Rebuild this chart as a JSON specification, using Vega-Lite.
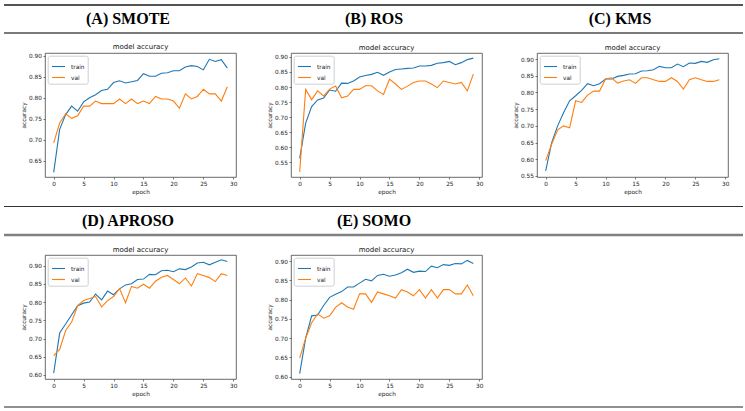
{
"$schema":"https://vega.github.io/schema/vega-lite/v6.json",
"padding":{"left":2,"top":4,"right":0,"bottom":0},
"spacing":8,
"datasets":{
"heads":[
{"row":1,"col":0,"label":"(A) SMOTE"},{"row":1,"col":1,"label":"(B) ROS"},{"row":1,"col":2,"label":"(C) KMS"},
{"row":2,"col":0,"label":"(D) APROSO"},{"row":2,"col":1,"label":"(E) SOMO"}],
"acc":[
{"method":"SMOTE","epoch":0,"train":0.623,"val":0.693},{"method":"SMOTE","epoch":1,"train":0.725,"val":0.74},{"method":"SMOTE","epoch":2,"train":0.76,"val":0.762},{"method":"SMOTE","epoch":3,"train":0.78,"val":0.751},{"method":"SMOTE","epoch":4,"train":0.768,"val":0.757},{"method":"SMOTE","epoch":5,"train":0.79,"val":0.78},{"method":"SMOTE","epoch":6,"train":0.8,"val":0.78},{"method":"SMOTE","epoch":7,"train":0.807,"val":0.792},{"method":"SMOTE","epoch":8,"train":0.817,"val":0.786},{"method":"SMOTE","epoch":9,"train":0.82,"val":0.786},
{"method":"SMOTE","epoch":10,"train":0.836,"val":0.786},{"method":"SMOTE","epoch":11,"train":0.84,"val":0.797},{"method":"SMOTE","epoch":12,"train":0.835,"val":0.786},{"method":"SMOTE","epoch":13,"train":0.838,"val":0.797},{"method":"SMOTE","epoch":14,"train":0.841,"val":0.786},{"method":"SMOTE","epoch":15,"train":0.857,"val":0.792},{"method":"SMOTE","epoch":16,"train":0.851,"val":0.786},{"method":"SMOTE","epoch":17,"train":0.851,"val":0.803},{"method":"SMOTE","epoch":18,"train":0.858,"val":0.797},{"method":"SMOTE","epoch":19,"train":0.859,"val":0.797},
{"method":"SMOTE","epoch":20,"train":0.864,"val":0.792},{"method":"SMOTE","epoch":21,"train":0.864,"val":0.775},{"method":"SMOTE","epoch":22,"train":0.873,"val":0.809},{"method":"SMOTE","epoch":23,"train":0.876,"val":0.797},{"method":"SMOTE","epoch":24,"train":0.874,"val":0.803},{"method":"SMOTE","epoch":25,"train":0.866,"val":0.82},{"method":"SMOTE","epoch":26,"train":0.891,"val":0.809},{"method":"SMOTE","epoch":27,"train":0.886,"val":0.809},{"method":"SMOTE","epoch":28,"train":0.89,"val":0.792},{"method":"SMOTE","epoch":29,"train":0.87,"val":0.826},
{"method":"ROS","epoch":0,"train":0.563,"val":0.518},{"method":"ROS","epoch":1,"train":0.68,"val":0.792},{"method":"ROS","epoch":2,"train":0.735,"val":0.758},{"method":"ROS","epoch":3,"train":0.757,"val":0.787},{"method":"ROS","epoch":4,"train":0.763,"val":0.77},{"method":"ROS","epoch":5,"train":0.79,"val":0.793},{"method":"ROS","epoch":6,"train":0.786,"val":0.803},{"method":"ROS","epoch":7,"train":0.813,"val":0.764},{"method":"ROS","epoch":8,"train":0.812,"val":0.77},{"method":"ROS","epoch":9,"train":0.82,"val":0.792},
{"method":"ROS","epoch":10,"train":0.833,"val":0.792},{"method":"ROS","epoch":11,"train":0.838,"val":0.804},{"method":"ROS","epoch":12,"train":0.842,"val":0.804},{"method":"ROS","epoch":13,"train":0.849,"val":0.787},{"method":"ROS","epoch":14,"train":0.839,"val":0.775},{"method":"ROS","epoch":15,"train":0.85,"val":0.826},{"method":"ROS","epoch":16,"train":0.858,"val":0.81},{"method":"ROS","epoch":17,"train":0.86,"val":0.792},{"method":"ROS","epoch":18,"train":0.862,"val":0.803},{"method":"ROS","epoch":19,"train":0.863,"val":0.815},
{"method":"ROS","epoch":20,"train":0.87,"val":0.82},{"method":"ROS","epoch":21,"train":0.87,"val":0.82},{"method":"ROS","epoch":22,"train":0.872,"val":0.81},{"method":"ROS","epoch":23,"train":0.879,"val":0.798},{"method":"ROS","epoch":24,"train":0.881,"val":0.82},{"method":"ROS","epoch":25,"train":0.885,"val":0.815},{"method":"ROS","epoch":26,"train":0.874,"val":0.81},{"method":"ROS","epoch":27,"train":0.881,"val":0.815},{"method":"ROS","epoch":28,"train":0.891,"val":0.787},{"method":"ROS","epoch":29,"train":0.896,"val":0.843},
{"method":"KMS","epoch":0,"train":0.565,"val":0.596},{"method":"KMS","epoch":1,"train":0.65,"val":0.645},{"method":"KMS","epoch":2,"train":0.7,"val":0.688},{"method":"KMS","epoch":3,"train":0.74,"val":0.7},{"method":"KMS","epoch":4,"train":0.775,"val":0.694},{"method":"KMS","epoch":5,"train":0.79,"val":0.775},{"method":"KMS","epoch":6,"train":0.806,"val":0.77},{"method":"KMS","epoch":7,"train":0.826,"val":0.792},{"method":"KMS","epoch":8,"train":0.82,"val":0.804},{"method":"KMS","epoch":9,"train":0.826,"val":0.804},
{"method":"KMS","epoch":10,"train":0.84,"val":0.84},{"method":"KMS","epoch":11,"train":0.84,"val":0.844},{"method":"KMS","epoch":12,"train":0.848,"val":0.828},{"method":"KMS","epoch":13,"train":0.851,"val":0.834},{"method":"KMS","epoch":14,"train":0.855,"val":0.838},{"method":"KMS","epoch":15,"train":0.856,"val":0.827},{"method":"KMS","epoch":16,"train":0.864,"val":0.844},{"method":"KMS","epoch":17,"train":0.865,"val":0.844},{"method":"KMS","epoch":18,"train":0.868,"val":0.838},{"method":"KMS","epoch":19,"train":0.878,"val":0.833},
{"method":"KMS","epoch":20,"train":0.874,"val":0.833},{"method":"KMS","epoch":21,"train":0.874,"val":0.844},{"method":"KMS","epoch":22,"train":0.885,"val":0.833},{"method":"KMS","epoch":23,"train":0.877,"val":0.81},{"method":"KMS","epoch":24,"train":0.888,"val":0.838},{"method":"KMS","epoch":25,"train":0.887,"val":0.844},{"method":"KMS","epoch":26,"train":0.893,"val":0.838},{"method":"KMS","epoch":27,"train":0.89,"val":0.833},{"method":"KMS","epoch":28,"train":0.898,"val":0.833},{"method":"KMS","epoch":29,"train":0.901,"val":0.838},
{"method":"APROSO","epoch":0,"train":0.605,"val":0.653},{"method":"APROSO","epoch":1,"train":0.715,"val":0.67},{"method":"APROSO","epoch":2,"train":0.74,"val":0.722},{"method":"APROSO","epoch":3,"train":0.765,"val":0.745},{"method":"APROSO","epoch":4,"train":0.79,"val":0.79},{"method":"APROSO","epoch":5,"train":0.797,"val":0.804},{"method":"APROSO","epoch":6,"train":0.8,"val":0.81},{"method":"APROSO","epoch":7,"train":0.822,"val":0.815},{"method":"APROSO","epoch":8,"train":0.806,"val":0.787},{"method":"APROSO","epoch":9,"train":0.83,"val":0.804},
{"method":"APROSO","epoch":10,"train":0.82,"val":0.815},{"method":"APROSO","epoch":11,"train":0.836,"val":0.837},{"method":"APROSO","epoch":12,"train":0.847,"val":0.798},{"method":"APROSO","epoch":13,"train":0.85,"val":0.843},{"method":"APROSO","epoch":14,"train":0.862,"val":0.838},{"method":"APROSO","epoch":15,"train":0.863,"val":0.849},{"method":"APROSO","epoch":16,"train":0.876,"val":0.838},{"method":"APROSO","epoch":17,"train":0.875,"val":0.857},{"method":"APROSO","epoch":18,"train":0.886,"val":0.868},{"method":"APROSO","epoch":19,"train":0.887,"val":0.873},
{"method":"APROSO","epoch":20,"train":0.883,"val":0.862},{"method":"APROSO","epoch":21,"train":0.891,"val":0.85},{"method":"APROSO","epoch":22,"train":0.889,"val":0.866},{"method":"APROSO","epoch":23,"train":0.896,"val":0.844},{"method":"APROSO","epoch":24,"train":0.907,"val":0.878},{"method":"APROSO","epoch":25,"train":0.909,"val":0.873},{"method":"APROSO","epoch":26,"train":0.902,"val":0.867},{"method":"APROSO","epoch":27,"train":0.909,"val":0.856},{"method":"APROSO","epoch":28,"train":0.916,"val":0.878},{"method":"APROSO","epoch":29,"train":0.911,"val":0.873},
{"method":"SOMO","epoch":0,"train":0.608,"val":0.648},{"method":"SOMO","epoch":1,"train":0.7,"val":0.7},{"method":"SOMO","epoch":2,"train":0.758,"val":0.74},{"method":"SOMO","epoch":3,"train":0.76,"val":0.763},{"method":"SOMO","epoch":4,"train":0.785,"val":0.752},{"method":"SOMO","epoch":5,"train":0.806,"val":0.758},{"method":"SOMO","epoch":6,"train":0.814,"val":0.78},{"method":"SOMO","epoch":7,"train":0.821,"val":0.792},{"method":"SOMO","epoch":8,"train":0.833,"val":0.781},{"method":"SOMO","epoch":9,"train":0.833,"val":0.775},
{"method":"SOMO","epoch":10,"train":0.843,"val":0.815},{"method":"SOMO","epoch":11,"train":0.853,"val":0.815},{"method":"SOMO","epoch":12,"train":0.849,"val":0.793},{"method":"SOMO","epoch":13,"train":0.863,"val":0.82},{"method":"SOMO","epoch":14,"train":0.866,"val":0.815},{"method":"SOMO","epoch":15,"train":0.861,"val":0.81},{"method":"SOMO","epoch":16,"train":0.864,"val":0.804},{"method":"SOMO","epoch":17,"train":0.87,"val":0.826},{"method":"SOMO","epoch":18,"train":0.879,"val":0.82},{"method":"SOMO","epoch":19,"train":0.871,"val":0.81},
{"method":"SOMO","epoch":20,"train":0.874,"val":0.826},{"method":"SOMO","epoch":21,"train":0.873,"val":0.804},{"method":"SOMO","epoch":22,"train":0.887,"val":0.826},{"method":"SOMO","epoch":23,"train":0.883,"val":0.804},{"method":"SOMO","epoch":24,"train":0.891,"val":0.826},{"method":"SOMO","epoch":25,"train":0.889,"val":0.826},{"method":"SOMO","epoch":26,"train":0.894,"val":0.815},{"method":"SOMO","epoch":27,"train":0.893,"val":0.815},{"method":"SOMO","epoch":28,"train":0.902,"val":0.838},{"method":"SOMO","epoch":29,"train":0.894,"val":0.81}
]},
"vconcat":[
{"width":698,"height":28,"view":{"stroke":null},
 "layer":[
  {"data":{"name":"heads"},"transform":[{"filter":"datum.row===1"}],
   "mark":{"type":"text","font":"Liberation Serif","fontWeight":"bold","fontSize":16,"baseline":"middle","color":"#000"},
   "encoding":{"x":{"field":"col","type":"quantitative","scale":{"domain":[-0.3374,2.5],"nice":false,"zero":false},"axis":null},
    "y":{"datum":0.5,"type":"quantitative","scale":{"domain":[0,1],"nice":false,"zero":false},"axis":null},
    "text":{"field":"label"}}},
  {"data":{"values":[{}]},"mark":{"type":"rule","color":"#1a1a1a","strokeWidth":1.3},
   "encoding":{"x":{"datum":-0.504},"x2":{"datum":2.5},"y":{"datum":1}}},
  {"data":{"values":[{}]},"mark":{"type":"rule","color":"#7a7a7a","strokeWidth":2},
   "encoding":{"x":{"datum":-0.504},"x2":{"datum":2.5},"y":{"datum":0}}}
 ]},
{"hconcat":[
 {"width":191,"height":124,"title":"model accuracy","data":{"name":"acc"},
  "transform":[{"filter":"datum.method==='SMOTE'"},{"fold":["train","val"],"as":["split","accuracy"]}],
  "mark":{"type":"line","strokeWidth":1.1},
  "encoding":{
   "x":{"field":"epoch","type":"quantitative","scale":{"domain":[-1.45,30.45],"nice":false,"zero":false},"axis":{"values":[0,5,10,15,20,25,30],"title":"epoch"}},
   "y":{"field":"accuracy","type":"quantitative","scale":{"domain":[0.612,0.906],"nice":false,"zero":false},"axis":{"values":[0.65,0.7,0.75,0.8,0.85,0.9],"format":".2f","title":"accuracy"}},
   "color":{"field":"split","type":"nominal","title":null,"scale":{"domain":["train","val"],"range":["#1f77b4","#ff7f0e"]}}}},
 {"width":191,"height":124,"title":"model accuracy","data":{"name":"acc"},
  "transform":[{"filter":"datum.method==='ROS'"},{"fold":["train","val"],"as":["split","accuracy"]}],
  "mark":{"type":"line","strokeWidth":1.1},
  "encoding":{
   "x":{"field":"epoch","type":"quantitative","scale":{"domain":[-1.45,30.45],"nice":false,"zero":false},"axis":{"values":[0,5,10,15,20,25,30],"title":"epoch"}},
   "y":{"field":"accuracy","type":"quantitative","scale":{"domain":[0.501,0.913],"nice":false,"zero":false},"axis":{"values":[0.55,0.6,0.65,0.7,0.75,0.8,0.85,0.9],"format":".2f","title":"accuracy"}},
   "color":{"field":"split","type":"nominal","title":null,"scale":{"domain":["train","val"],"range":["#1f77b4","#ff7f0e"]}}}},
 {"width":191,"height":124,"title":"model accuracy","data":{"name":"acc"},
  "transform":[{"filter":"datum.method==='KMS'"},{"fold":["train","val"],"as":["split","accuracy"]}],
  "mark":{"type":"line","strokeWidth":1.1},
  "encoding":{
   "x":{"field":"epoch","type":"quantitative","scale":{"domain":[-1.45,30.45],"nice":false,"zero":false},"axis":{"values":[0,5,10,15,20,25,30],"title":"epoch"}},
   "y":{"field":"accuracy","type":"quantitative","scale":{"domain":[0.547,0.918],"nice":false,"zero":false},"axis":{"values":[0.55,0.6,0.65,0.7,0.75,0.8,0.85,0.9],"format":".2f","title":"accuracy"}},
   "color":{"field":"split","type":"nominal","title":null,"scale":{"domain":["train","val"],"range":["#1f77b4","#ff7f0e"]}}}}
 ],"spacing":55,"bounds":"flush",
 "resolve":{"scale":{"color":"independent"},"legend":{"color":"independent"}}},
{"width":698,"height":32,"view":{"stroke":null},
 "layer":[
  {"data":{"name":"heads"},"transform":[{"filter":"datum.row===2"}],
   "mark":{"type":"text","font":"Liberation Serif","fontWeight":"bold","fontSize":16,"baseline":"middle","color":"#000"},
   "encoding":{"x":{"field":"col","type":"quantitative","scale":{"domain":[-0.3374,2.5],"nice":false,"zero":false},"axis":null},
    "y":{"datum":0.5,"type":"quantitative","scale":{"domain":[0,1.123],"nice":false,"zero":false},"axis":null},
    "text":{"field":"label"}}},
  {"data":{"values":[{}]},"mark":{"type":"rule","color":"#333333","strokeWidth":1.2},
   "encoding":{"x":{"datum":-0.504},"x2":{"datum":2.5},"y":{"datum":1}}},
  {"data":{"values":[{}]},"mark":{"type":"rule","color":"#808080","strokeWidth":2.3},
   "encoding":{"x":{"datum":-0.504},"x2":{"datum":2.5},"y":{"datum":0}}}
 ]},
{"hconcat":[
 {"width":191,"height":124,"title":"model accuracy","data":{"name":"acc"},
  "transform":[{"filter":"datum.method==='APROSO'"},{"fold":["train","val"],"as":["split","accuracy"]}],
  "mark":{"type":"line","strokeWidth":1.1},
  "encoding":{
   "x":{"field":"epoch","type":"quantitative","scale":{"domain":[-1.45,30.45],"nice":false,"zero":false},"axis":{"values":[0,5,10,15,20,25,30],"title":"epoch"}},
   "y":{"field":"accuracy","type":"quantitative","scale":{"domain":[0.589,0.929],"nice":false,"zero":false},"axis":{"values":[0.6,0.65,0.7,0.75,0.8,0.85,0.9],"format":".2f","title":"accuracy"}},
   "color":{"field":"split","type":"nominal","title":null,"scale":{"domain":["train","val"],"range":["#1f77b4","#ff7f0e"]}}}},
 {"width":191,"height":124,"title":"model accuracy","data":{"name":"acc"},
  "transform":[{"filter":"datum.method==='SOMO'"},{"fold":["train","val"],"as":["split","accuracy"]}],
  "mark":{"type":"line","strokeWidth":1.1},
  "encoding":{
   "x":{"field":"epoch","type":"quantitative","scale":{"domain":[-1.45,30.45],"nice":false,"zero":false},"axis":{"values":[0,5,10,15,20,25,30],"title":"epoch"}},
   "y":{"field":"accuracy","type":"quantitative","scale":{"domain":[0.594,0.916],"nice":false,"zero":false},"axis":{"values":[0.6,0.65,0.7,0.75,0.8,0.85,0.9],"format":".2f","title":"accuracy"}},
   "color":{"field":"split","type":"nominal","title":null,"scale":{"domain":["train","val"],"range":["#1f77b4","#ff7f0e"]}}}}
 ],"spacing":55,"bounds":"flush",
 "resolve":{"scale":{"color":"independent"},"legend":{"color":"independent"}}},
{"width":698,"height":2,"view":{"stroke":null},"data":{"values":[{}]},
 "mark":{"type":"rule","color":"#222222","strokeWidth":1.2},
 "encoding":{"x":{"datum":-0.504,"type":"quantitative","scale":{"domain":[-0.3374,2.5],"nice":false,"zero":false},"axis":null},"x2":{"datum":2.5},
  "y":{"datum":0,"type":"quantitative","scale":{"domain":[0,1],"nice":false,"zero":false},"axis":null}}}
],
"resolve":{"scale":{"color":"independent"},"legend":{"color":"independent"}},
"config":{
 "font":"DejaVu Sans",
 "view":{"stroke":"#444444","strokeWidth":0.8},
 "axis":{"grid":false,"domain":false,"labelFont":"DejaVu Sans","titleFont":"DejaVu Sans","labelFontSize":5.8,"titleFontSize":5.8,"titleFontWeight":"normal","labelColor":"#222222","titleColor":"#222222","tickColor":"#444444","tickSize":2,"tickWidth":0.7,"labelPadding":1.5,"titlePadding":2.5},
 "title":{"font":"DejaVu Sans","fontSize":7,"fontWeight":"normal","color":"#111111","offset":2.5},
 "legend":{"orient":"top-left","offset":3,"padding":3,"symbolType":"stroke","symbolSize":170,"symbolStrokeWidth":1.1,"labelFont":"DejaVu Sans","labelFontSize":5.8,"labelColor":"#222222","labelOffset":5,"rowPadding":-4,"strokeColor":"#bbbbbb","strokeWidth":0.7,"fillColor":"#ffffff","cornerRadius":2}
}
}
